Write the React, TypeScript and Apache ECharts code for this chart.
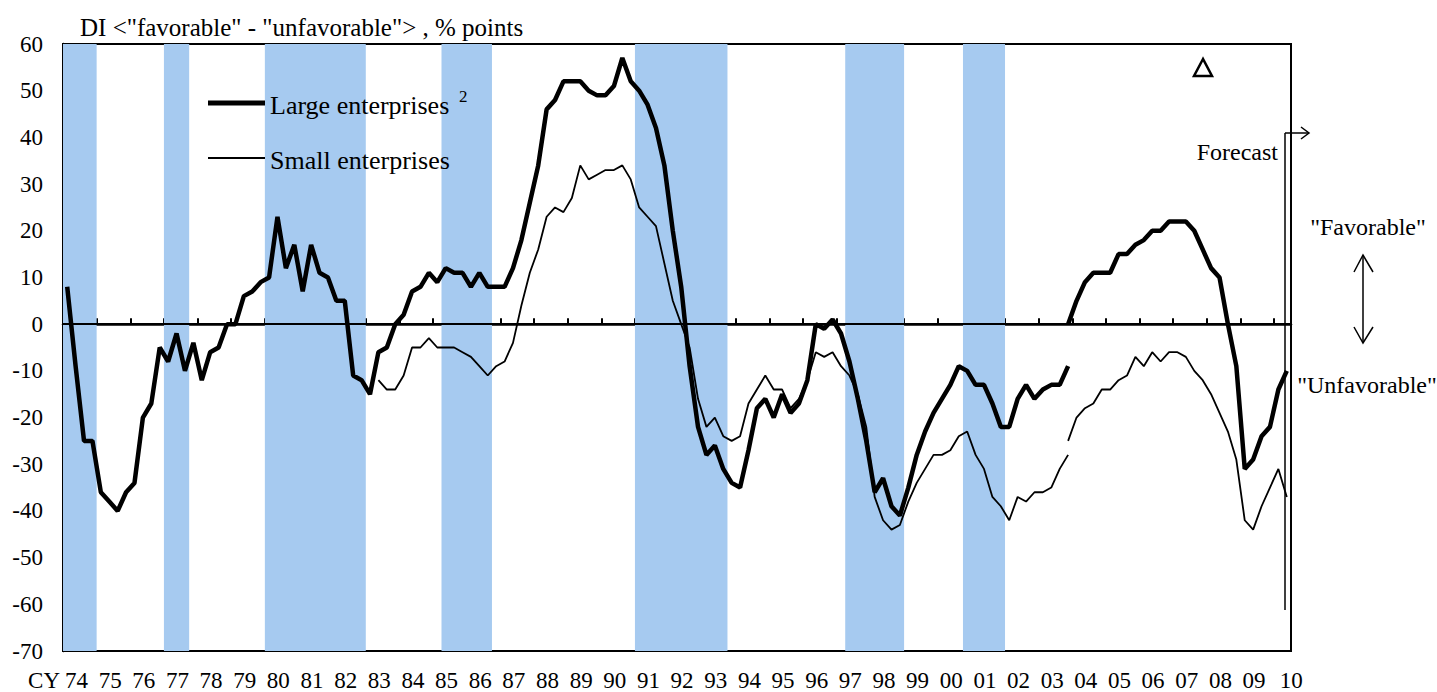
import React, { useEffect, useRef } from "react";
import * as echarts from "echarts";

// ---- data (quarterly DI, % points) ----
const yearLabels = [
  "74", "75", "76", "77", "78", "79", "80", "81", "82", "83", "84", "85", "86",
  "87", "88", "89", "90", "91", "92", "93", "94", "95", "96", "97", "98", "99",
  "00", "01", "02", "03", "04", "05", "06", "07", "08", "09", "10",
];

// Large enterprises, old basis, from 1974 Q1 to 2003 Q4
const largeOldStart: [number, number] = [1974, 1];
const largeOld = [
  8, -9, -25, -25, -36, -38, -40, -36, -34, -20, -17, -5, -8, -2, -10, -4,
  -12, -6, -5, 0, 0, 6, 7, 9, 10, 23, 12, 17, 7, 17, 11, 10,
  5, 5, -11, -12, -15, -6, -5, 0, 2, 7, 8, 11, 9, 12, 11, 11,
  8, 11, 8, 8, 8, 12, 18, 26, 34, 46, 48, 52, 52, 52, 50, 49,
  49, 51, 57, 52, 50, 47, 42, 34, 20, 8, -9, -22, -28, -26, -31, -34,
  -35, -27, -18, -16, -20, -15, -19, -17, -12, 0, -1, 1, -2, -8, -16, -25,
  -36, -33, -39, -41, -35, -28, -23, -19, -16, -13, -9, -10, -13, -13, -17, -22,
  -22, -16, -13, -16, -14, -13, -13, -9,
];

// Large enterprises, new basis, from 2003 Q4 to 2010 Q2 (last = forecast)
const largeNewStart: [number, number] = [2003, 4];
const largeNew = [
  0, 5, 9, 11, 11, 11, 15, 15, 17, 18, 20, 20, 22, 22, 22, 20,
  16, 12, 10, 0, -9, -31, -29, -24, -22, -14, -10,
];

// Small enterprises, old basis, from 1983 Q2 to 2003 Q4
const smallOldStart: [number, number] = [1983, 2];
const smallOld = [
  -12, -14, -14, -11, -5, -5, -3, -5, -5, -5, -6, -7, -9, -11, -9, -8,
  -4, 4, 11, 16, 23, 25, 24, 27, 34, 31, 32, 33, 33, 34, 31, 25,
  23, 21, 13, 5, 0, -5, -16, -22, -20, -24, -25, -24, -17, -14, -11, -14,
  -14, -18, -16, -12, -6, -7, -6, -9, -11, -15, -22, -37, -42, -44, -43, -38,
  -34, -31, -28, -28, -27, -24, -23, -28, -31, -37, -39, -42, -37, -38, -36, -36,
  -35, -31, -28,
];

// Small enterprises, new basis, from 2003 Q4 to 2010 Q2 (last = forecast)
const smallNewStart: [number, number] = [2003, 4];
const smallNew = [
  -25, -20, -18, -17, -14, -14, -12, -11, -7, -9, -6, -8, -6, -6, -7, -10,
  -12, -15, -19, -23, -29, -42, -44, -39, -35, -31, -37,
];

// Shaded periods (recessions), in years
const recessions: [number, number][] = [
  [1974, 1975],
  [1977, 1977.75],
  [1980, 1983],
  [1985.25, 1986.75],
  [1991, 1993.75],
  [1997.25, 1999],
  [2000.75, 2002],
];

const FONT = '"Liberation Serif", "Times New Roman", serif';

function toXY(start: [number, number], values: number[]) {
  return values.map((v, k) => {
    const q = start[1] - 1 + k;
    const x = start[0] + Math.floor(q / 4) + (q % 4) * 0.25 + 0.125;
    return [x, v];
  });
}

export default function App() {
  const ref = useRef<HTMLDivElement>(null);

  useEffect(() => {
    if (!ref.current) return;
    const chart = echarts.init(ref.current, undefined, { renderer: "svg" });

    const thick = { color: "#000", width: 4.5 };
    const thin = { color: "#000", width: 1.8 };
    const f24 = `24px ${FONT}`;
    const f25 = `25px ${FONT}`;
    const f26 = `26px ${FONT}`;

    chart.setOption({
      animation: false,
      backgroundColor: "#fff",
      grid: {
        left: 63,
        top: 44,
        width: 1228,
        height: 608,
        show: true,
        borderColor: "#000",
        borderWidth: 2,
        backgroundColor: "transparent",
      },
      xAxis: {
        type: "value",
        min: 1974,
        max: 2010.5,
        interval: 1,
        axisLine: { show: true, lineStyle: { color: "#000", width: 2.5 } },
        axisTick: { show: true, inside: true, length: 6, lineStyle: { color: "#000", width: 2 } },
        splitLine: { show: false },
        axisLabel: {
          margin: 18,
          color: "#000",
          fontFamily: FONT,
          fontSize: 23,
          formatter: (v: number) => {
            const k = Math.round(v - 1974);
            if (Math.abs(v - 1974 - k) > 1e-6 || k < 0 || k >= yearLabels.length) return "";
            return k === yearLabels.length - 1 ? `{b|${yearLabels[k]}}` : `{a|${yearLabels[k]}}`;
          },
          rich: {
            a: { padding: [0, 0, 0, 27], fontFamily: FONT, fontSize: 23, color: "#000" },
            b: { padding: [0, 0, 0, 34], fontFamily: FONT, fontSize: 23, color: "#000" },
          },
        },
      },
      yAxis: {
        type: "value",
        min: -70,
        max: 60,
        interval: 10,
        axisLine: { show: true, lineStyle: { color: "#000", width: 2.5 } },
        axisTick: { show: true, inside: true, length: 6, lineStyle: { color: "#000", width: 2 } },
        splitLine: { show: false },
        axisLabel: { margin: 20, color: "#000", fontFamily: FONT, fontSize: 23 },
      },
      series: [
        {
          type: "line",
          data: [],
          z: 1,
          silent: true,
          markArea: {
            silent: true,
            itemStyle: { color: "#A6CAF0" },
            data: recessions.map(([a, b]) => [{ xAxis: a }, { xAxis: b }]),
          },
          markLine: {
            silent: true,
            symbol: "none",
            label: { show: false },
            lineStyle: { color: "#000", width: 2, type: "solid" },
            data: [{ yAxis: 0 }],
          },
        },
        { type: "line", name: "Small enterprises", data: toXY(smallOldStart, smallOld), symbol: "none", lineStyle: thin, z: 3 },
        { type: "line", name: "Small enterprises new", data: toXY(smallNewStart, smallNew), symbol: "none", lineStyle: thin, z: 3 },
        { type: "line", name: "Large enterprises", data: toXY(largeOldStart, largeOld), symbol: "none", lineStyle: thick, z: 4 },
        { type: "line", name: "Large enterprises new", data: toXY(largeNewStart, largeNew), symbol: "none", lineStyle: thick, z: 4 },
      ],
      graphic: [
        { type: "text", x: 80, y: 27, style: { text: 'DI <"favorable" - "unfavorable"> , % points', font: f25, fill: "#000", textAlign: "left", textVerticalAlign: "middle" } },
        { type: "text", x: 60, y: 680, style: { text: "CY", font: `23px ${FONT}`, fill: "#000", textAlign: "right", textVerticalAlign: "middle" } },
        // legend
        { type: "line", shape: { x1: 208, y1: 103, x2: 265, y2: 103 }, style: { stroke: "#000", lineWidth: 5 }, z: 10 },
        { type: "text", x: 270, y: 105, style: { text: "Large enterprises", font: f26, fill: "#000", textAlign: "left", textVerticalAlign: "middle" }, z: 10 },
        { type: "text", x: 459, y: 96, style: { text: "2", font: `17px ${FONT}`, fill: "#000", textAlign: "left", textVerticalAlign: "middle" }, z: 10 },
        { type: "line", shape: { x1: 208, y1: 158, x2: 265, y2: 158 }, style: { stroke: "#000", lineWidth: 2 }, z: 10 },
        { type: "text", x: 270, y: 160, style: { text: "Small enterprises", font: f26, fill: "#000", textAlign: "left", textVerticalAlign: "middle" }, z: 10 },
        // triangle mark
        { type: "polygon", shape: { points: [[1203, 59], [1194, 76], [1212, 76]] }, style: { stroke: "#000", fill: "none", lineWidth: 2.5 }, z: 10 },
        // forecast marker
        { type: "line", shape: { x1: 1285, y1: 133, x2: 1285, y2: 610 }, style: { stroke: "#000", lineWidth: 1.5 }, z: 10 },
        { type: "line", shape: { x1: 1285, y1: 133, x2: 1309, y2: 133 }, style: { stroke: "#000", lineWidth: 1.5 }, z: 10 },
        { type: "polyline", shape: { points: [[1301, 127], [1309, 133], [1301, 139]] }, style: { stroke: "#000", fill: "none", lineWidth: 1.5 }, z: 10 },
        { type: "text", x: 1278, y: 152, style: { text: "Forecast", font: f24, fill: "#000", textAlign: "right", textVerticalAlign: "middle" }, z: 10 },
        // favorable / unfavorable
        { type: "text", x: 1368, y: 227, style: { text: '"Favorable"', font: f24, fill: "#000", textAlign: "center", textVerticalAlign: "middle" } },
        { type: "text", x: 1367, y: 385, style: { text: '"Unfavorable"', font: f24, fill: "#000", textAlign: "center", textVerticalAlign: "middle" } },
        { type: "line", shape: { x1: 1363, y1: 255, x2: 1363, y2: 343 }, style: { stroke: "#000", lineWidth: 1.5 } },
        { type: "polyline", shape: { points: [[1354, 272], [1363, 255], [1373, 272]] }, style: { stroke: "#000", fill: "none", lineWidth: 1.5 } },
        { type: "polyline", shape: { points: [[1354, 327], [1363, 343], [1373, 327]] }, style: { stroke: "#000", fill: "none", lineWidth: 1.5 } },
      ],
    });

    return () => chart.dispose();
  }, []);

  return (
    <div
      ref={ref}
      style={{ position: "absolute", left: 0, top: 0, width: 1437, height: 692, background: "#fff" }}
    />
  );
}
